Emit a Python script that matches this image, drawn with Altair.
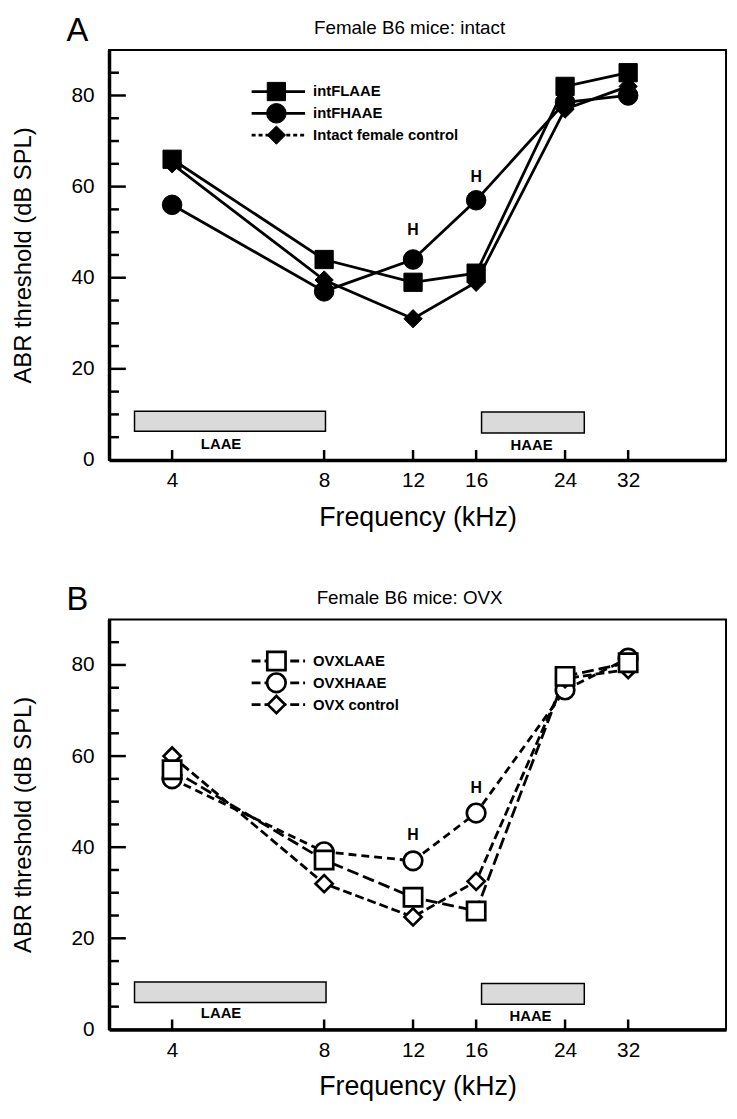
import altair as alt
import pandas as pd

# ---------------- data ----------------
FREQS = [4, 8, 12, 16, 24, 32]

A_NAMES = ["intFLAAE", "intFHAAE", "Intact female control"]
A_LAAE = [66, 44, 39, 41, 82, 85]
A_HAAE = [56, 37, 44, 57, 78.5, 80]
A_CTRL = [65, 39.5, 31, 39, 77, 82]

B_NAMES = ["OVXLAAE", "OVXHAAE", "OVX control"]
B_LAAE = [57, 37.2, 29, 26, 77.5, 80.5]
B_HAAE = [55, 39, 37, 47.5, 74.5, 81.5]
B_CTRL = [60, 32, 24.7, 32.5, 77, 79]

H_FREQ = [12, 16]
A_H_DB = [50.5, 62]
B_H_DB = [42.6, 53]

BAND_LABELS = ["LAAE", "HAAE"]
A_BAND_LO = [3.37, 16.4]
A_BAND_HI = [8.05, 26.2]
A_BAND_BOT = [6.3, 5.9]
A_BAND_TOP = [10.7, 10.5]
A_BAND_TXT_F = [5.0, 20.6]
A_BAND_TXT_DB = [3.6, 3.3]

B_BAND_LO = [3.37, 16.4]
B_BAND_HI = [8.07, 26.2]
B_BAND_BOT = [5.9, 5.5]
B_BAND_TOP = [10.4, 10.1]
B_BAND_TXT_F = [5.0, 20.5]
B_BAND_TXT_DB = [3.5, 3.0]

Y_LABELS = [0, 20, 40, 60, 80]
Y_MAJOR_TICKS = [20, 40, 60, 80]
Y_MINOR_TICKS = [5, 10, 15, 25, 30, 35, 45, 50, 55, 65, 70, 75, 85]

FONT = "Liberation Sans"
W, H = 623, 414

xs = alt.Scale(type="log", domain=[3, 50], nice=False)
ys = alt.Scale(domain=[0, 90], nice=False)
X_AXIS = alt.Axis(values=FREQS, format="d", title="Frequency (kHz)")
Y_AXIS = alt.Axis(values=Y_LABELS, title="ABR threshold (dB SPL)")


def X(field):
    return alt.X(field, scale=xs, axis=X_AXIS)


def Y(field):
    return alt.Y(field, scale=ys, axis=Y_AXIS)


def panel(letter, title, names, values, draw_order, filled, line_dashes,
          legend_dashes, h_db, band_lo, band_hi, band_bot, band_top,
          band_tf, band_tdb, sizes):
    shapes = ["square", "circle", "diamond"]
    bands = pd.DataFrame({"label": BAND_LABELS, "lo": band_lo, "hi": band_hi,
                          "bot": band_bot, "top": band_top,
                          "tf": band_tf, "tdb": band_tdb})

    if filled:
        pstyle = dict(filled=True, fill="black", stroke="black", strokeWidth=1, opacity=1)
    else:
        pstyle = dict(filled=True, fill="white", stroke="black", strokeWidth=2.7, opacity=1)

    layers = []
    # exposure bands
    layers.append(alt.Chart(bands).mark_rect(fill="#dadada", stroke="black", strokeWidth=1.5).encode(
        x=X("lo:Q"), x2="hi:Q", y=Y("bot:Q"), y2="top:Q"))
    layers.append(alt.Chart(bands).mark_text(fontSize=15, fontWeight="bold", baseline="middle").encode(
        x=X("tf:Q"), y=Y("tdb:Q"), text="label:N"))
    # inward ticks
    layers.append(alt.Chart(pd.DataFrame({"v": Y_MAJOR_TICKS})).mark_rule(strokeWidth=2.5, color="black").encode(
        y=Y("v:Q"), x=alt.value(0), x2=alt.value(17)))
    layers.append(alt.Chart(pd.DataFrame({"v": Y_MINOR_TICKS})).mark_rule(strokeWidth=2.5, color="black").encode(
        y=Y("v:Q"), x=alt.value(0), x2=alt.value(10)))
    layers.append(alt.Chart(pd.DataFrame({"f": FREQS})).mark_rule(strokeWidth=2.5, color="black").encode(
        x=X("f:Q"), y=alt.value(H), y2=alt.value(H - 10)))
    # series lines
    for i in draw_order:
        d = pd.DataFrame({"freq": FREQS, "db": values[i], "series": names[i]})
        kw = dict(color="black", strokeWidth=2.8)
        if line_dashes[i]:
            kw["strokeDash"] = line_dashes[i]
        layers.append(alt.Chart(d).mark_line(**kw).encode(x=X("freq:Q"), y=Y("db:Q")))
    # series points
    for i in draw_order:
        d = pd.DataFrame({"freq": FREQS, "db": values[i], "series": names[i]})
        layers.append(alt.Chart(d).mark_point(shape=shapes[i], size=sizes[i], **pstyle).encode(
            x=X("freq:Q"), y=Y("db:Q")))
    # H annotations
    layers.append(alt.Chart(pd.DataFrame({"freq": H_FREQ, "db": h_db})).mark_text(
        text="H", fontSize=16, fontWeight="bold", baseline="middle").encode(
        x=X("freq:Q"), y=Y("db:Q")))
    # legend
    for i, name in enumerate(names):
        one = pd.DataFrame({"label": [name]})
        yy = 42 + 22 * i
        kw = dict(color="black", strokeWidth=2.8)
        if legend_dashes[i]:
            kw["strokeDash"] = legend_dashes[i]
        layers.append(alt.Chart(one).mark_rule(**kw).encode(
            x=alt.value(144), x2=alt.value(198), y=alt.value(yy)))
        layers.append(alt.Chart(one).mark_point(shape=shapes[i], size=sizes[i], **pstyle).encode(
            x=alt.value(169), y=alt.value(yy)))
        layers.append(alt.Chart(one).mark_text(fontSize=15, fontWeight="bold", align="left",
                                               baseline="middle").encode(
            x=alt.value(206), y=alt.value(yy), text="label:N"))
    # panel title and letter
    layers.append(alt.Chart(pd.DataFrame({"t": [title]})).mark_text(
        fontSize=19, align="center", baseline="alphabetic").encode(
        x=alt.value(W / 2 - 8), y=alt.value(-16), text="t:N"))
    layers.append(alt.Chart(pd.DataFrame({"t": [letter]})).mark_text(
        fontSize=33, align="center", baseline="alphabetic").encode(
        x=alt.value(-32), y=alt.value(-9), text="t:N"))

    return alt.layer(*layers).properties(width=W, height=H)


pA = panel("A", "Female B6 mice: intact", A_NAMES, [A_LAAE, A_HAAE, A_CTRL],
           [2, 1, 0], True, [None, None, None], [None, None, [4, 3]],
           A_H_DB, A_BAND_LO, A_BAND_HI, A_BAND_BOT, A_BAND_TOP,
           A_BAND_TXT_F, A_BAND_TXT_DB, [340, 390, 340])
pB = panel("B", "Female B6 mice: OVX", B_NAMES, [B_LAAE, B_HAAE, B_CTRL],
           [1, 2, 0], False, [[12, 5], [8, 5], [9, 4]], [[9, 4], [9, 4], [9, 4]],
           B_H_DB, B_BAND_LO, B_BAND_HI, B_BAND_BOT, B_BAND_TOP,
           B_BAND_TXT_F, B_BAND_TXT_DB, [340, 350, 300])

chart = alt.vconcat(pA, pB, spacing=53).properties(
    padding={"left": 2, "top": 1, "right": 2, "bottom": 2}
).configure(font=FONT).configure_view(
    stroke="black", strokeWidth=2
).configure_axis(
    grid=False, ticks=False, tickSize=0, domain=True, domainColor="black", domainWidth=3.5,
    labelFont=FONT, labelFontSize=21, labelColor="black",
    titleFont=FONT, titleFontWeight="normal", titleColor="black"
).configure_axisY(
    labelPadding=15, titlePadding=36, titleFontSize=24
).configure_axisX(
    labelPadding=10, titlePadding=14, titleFontSize=27
)

chart.save("out.html", embed_options={"renderer": "svg", "actions": False})
